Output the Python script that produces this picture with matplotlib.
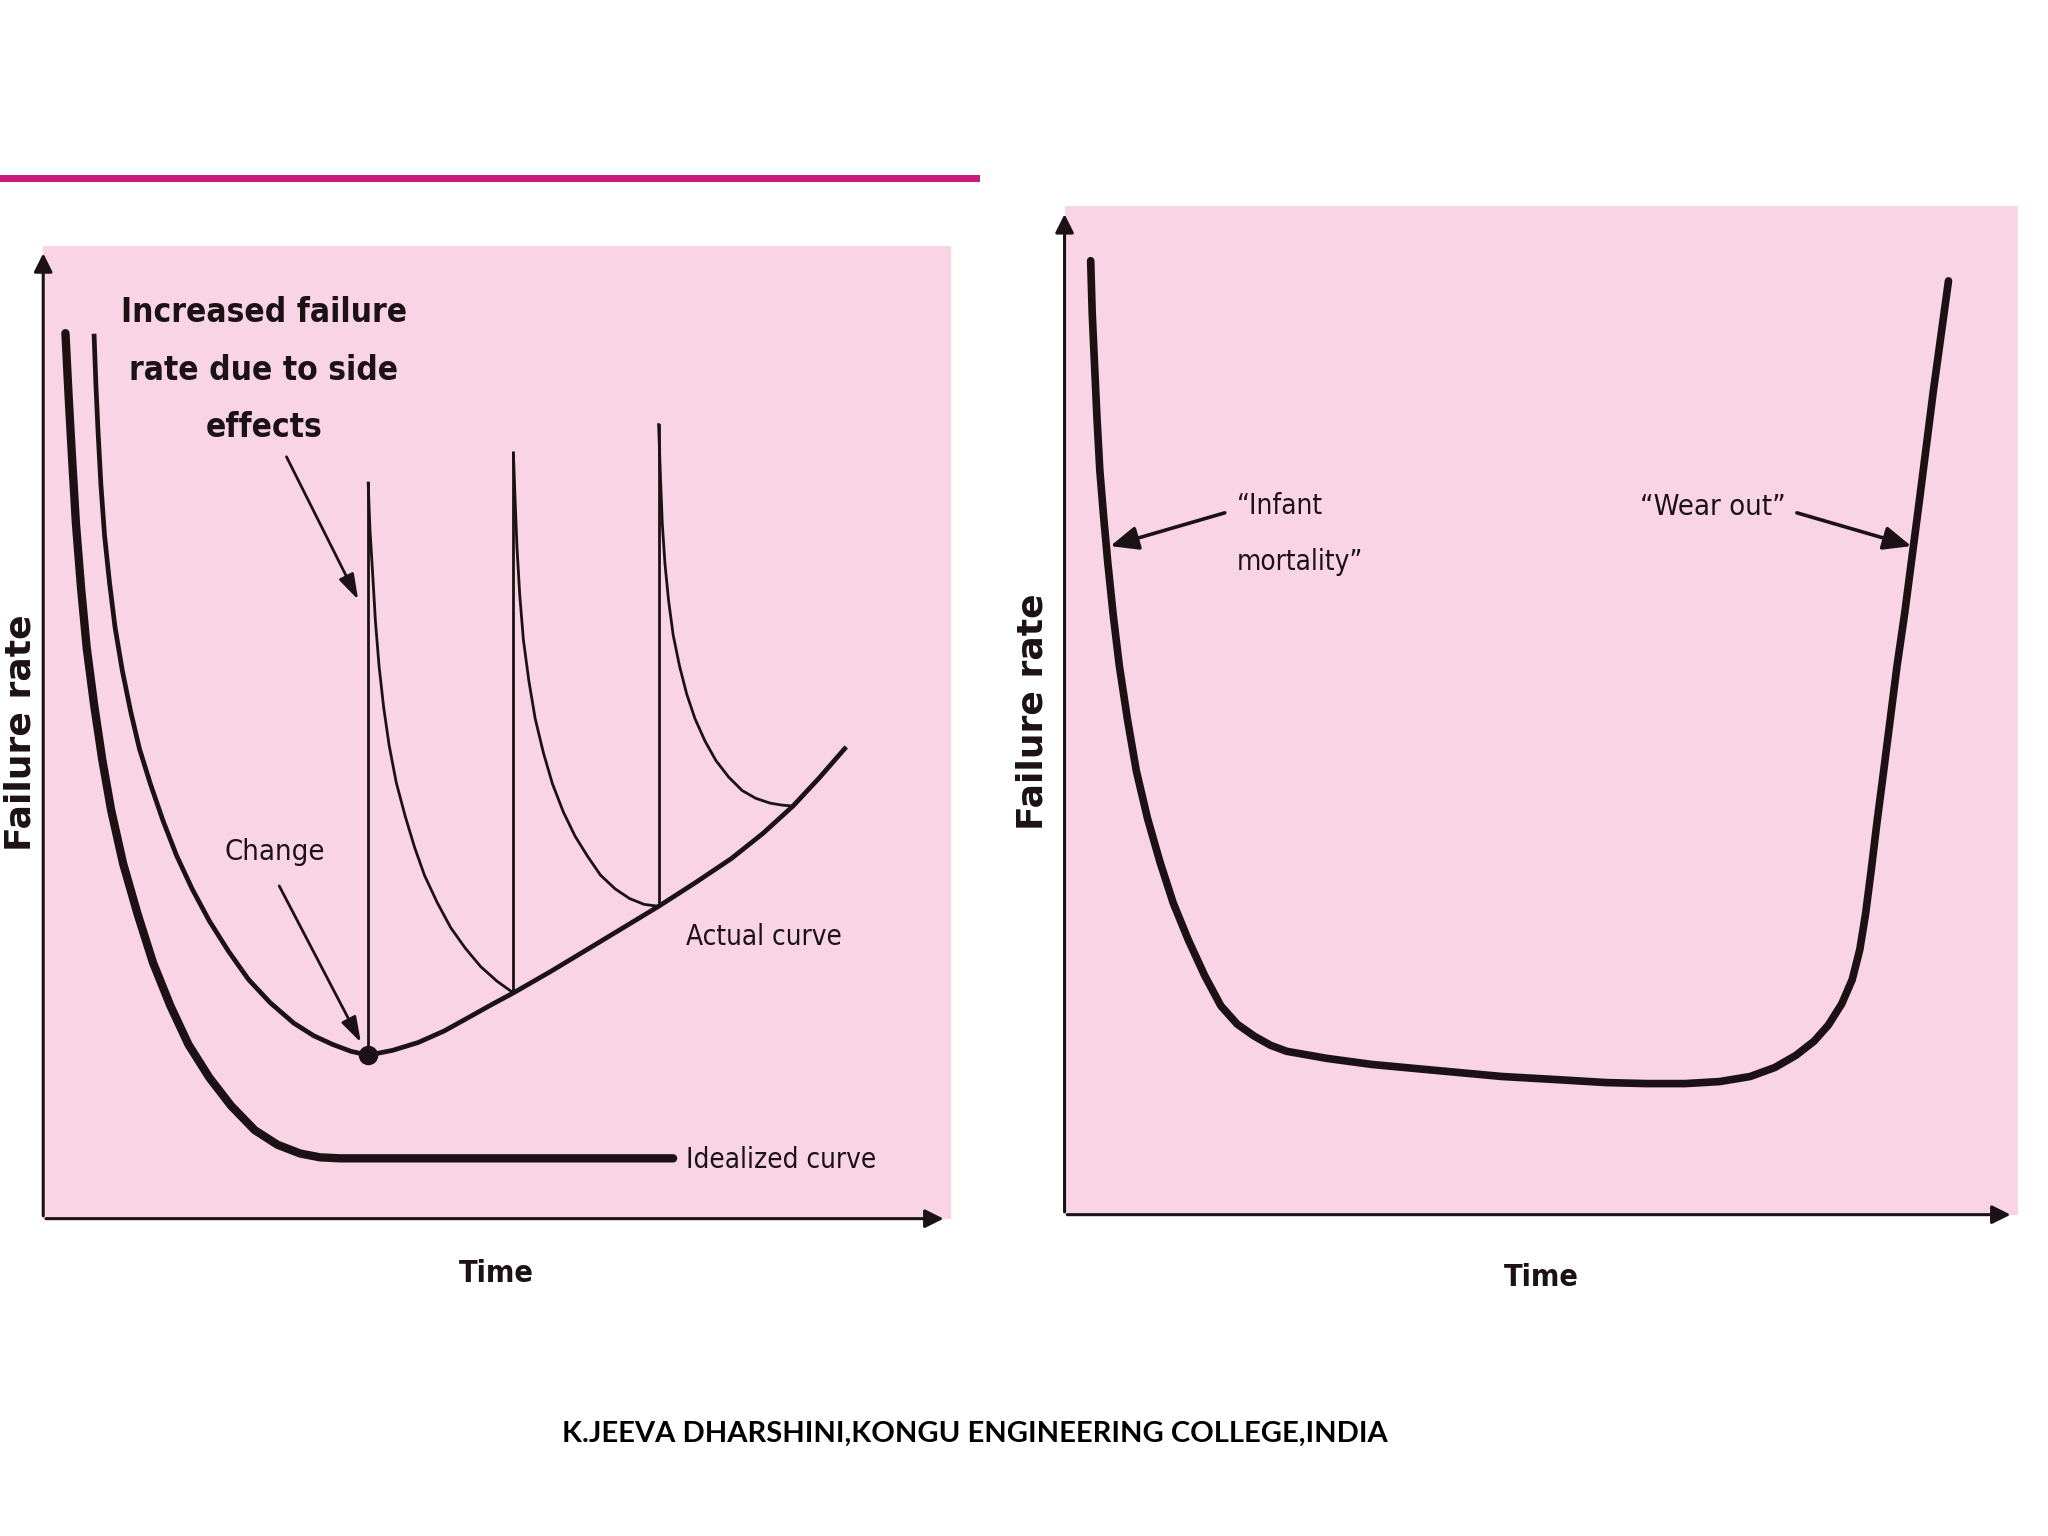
import matplotlib
matplotlib.use('agg')
import matplotlib.pyplot as plt
from matplotlib.lines import Line2D

# ---- data (arbitrary units, 0-100 on both axes) ----
# left chart: software failure curves
ideal_x = [2.45, 2.8, 3.17, 3.6, 4.17, 4.8, 5.61, 6.5, 7.48, 8.8, 10.4, 12.1, 14.0, 16.0,
           18.3, 20.7, 23.3, 25.8, 28.3, 30.5, 32.7, 69.4]
ideal_y = [91.0, 84.5, 78.3, 71.5, 64.8, 58.6, 52.8, 47.2, 42.0, 36.5, 31.3, 26.3, 21.9, 17.9,
           14.5, 11.6, 9.1, 7.6, 6.7, 6.3, 6.2, 6.2]

actual_x = [5.61, 5.8, 6.04, 6.35, 6.76, 7.3, 7.91, 8.7, 9.64, 10.6, 11.8, 13.2, 14.7, 16.4,
            18.3, 20.4, 22.6, 25.0, 27.6, 29.8, 31.9, 33.9, 35.8,
            38.5, 41.3, 44.2, 47.1, 49.4, 51.8, 55.9, 60.0, 63.9, 67.8, 71.8, 75.8, 79.3,
            82.6, 85.5, 88.3]
actual_y = [90.7, 85.8, 80.9, 75.5, 70.2, 65.4, 60.8, 56.4, 52.1, 48.3, 44.7, 40.9, 37.3, 33.9,
            30.6, 27.5, 24.6, 22.2, 20.1, 18.8, 17.9, 17.2, 16.8,
            17.3, 18.1, 19.3, 20.8, 22.0, 23.2, 25.4, 27.7, 29.9, 32.1, 34.5, 37.0, 39.6,
            42.4, 45.3, 48.3]

spike_x = [35.8, 51.8, 67.8]
spike_top = [75.6, 78.7, 81.6]
spike_bottom = [16.8, 23.2, 32.1]

decay1_x = [35.8, 36.0, 36.3, 36.6, 37.0, 37.5, 38.1, 38.9, 39.9, 40.9, 42.0, 43.4, 44.9,
            46.5, 48.2, 50.0, 51.8]
decay1_y = [75.6, 70.8, 66.2, 61.4, 56.8, 52.6, 48.7, 44.8, 41.3, 38.2, 35.3, 32.5, 29.9,
            27.8, 25.9, 24.4, 23.2]
decay2_x = [51.8, 52.0, 52.2, 52.5, 52.9, 53.5, 54.2, 55.1, 56.1, 57.3, 58.6, 60.0, 61.4,
            63.0, 64.6, 66.2, 67.8]
decay2_y = [78.7, 73.6, 68.9, 64.1, 59.5, 55.3, 51.4, 47.9, 44.7, 41.8, 39.3, 37.2, 35.3,
            33.9, 32.9, 32.3, 32.1]
decay3_x = [67.8, 68.0, 68.2, 68.5, 68.9, 69.4, 70.1, 70.9, 71.8, 72.9, 74.1, 75.5, 77.0,
            78.5, 80.1, 81.4, 82.6]
decay3_y = [81.6, 76.3, 71.5, 67.3, 63.5, 60.0, 56.8, 53.9, 51.4, 49.1, 47.1, 45.4, 44.0,
            43.2, 42.7, 42.5, 42.4]

change_point = (35.8, 16.8)

# right chart: hardware bathtub curve
tub_x = [2.74, 2.9, 3.15, 3.4, 3.70, 4.1, 4.52, 5.1, 5.75, 6.6, 7.53, 8.7, 10.0, 11.4, 13.0,
         14.7, 16.4, 18.1, 19.9, 21.6, 23.3, 27.5, 32.2, 39.0, 45.9, 51.5, 56.8, 61.0, 65.1,
         68.7, 71.9, 74.5, 76.7, 78.6, 80.1, 81.5, 82.6, 83.4, 84.0, 84.6, 85.2, 85.9, 86.6,
         87.3, 88.1, 88.9, 89.7, 90.4, 91.1, 91.9, 92.7]
tub_y = [94.6, 89.4, 84.2, 79.0, 73.8, 69.2, 64.8, 59.5, 54.4, 49.1, 44.0, 39.3, 35.0, 30.9,
         27.2, 23.7, 20.7, 18.9, 17.7, 16.8, 16.2, 15.5, 14.9, 14.3, 13.7, 13.4, 13.1, 13.0,
         13.0, 13.2, 13.7, 14.6, 15.8, 17.2, 18.8, 20.9, 23.3, 26.3, 29.8, 34.2, 38.9, 44.0,
         49.2, 54.4, 59.6, 65.4, 71.2, 76.4, 81.6, 87.1, 92.6]

PINK = '#f8d4e4'
INK = '#1c1216'

# condensed face for the figure labels
NARROW = dict(family='DejaVu Sans', fontstretch='condensed')

fig = plt.figure(figsize=(20.48, 15.36), dpi=100)
fig.patch.set_facecolor('white')


def setup(ax):
    ax.set_facecolor(PINK)
    ax.set_xlim(0, 100)
    ax.set_ylim(0, 100)
    for s in ax.spines.values():
        s.set_visible(False)
    ax.set_xticks([])
    ax.set_yticks([])
    # axis arrows
    ax.annotate('', xy=(0, 0.995), xytext=(0, 0), xycoords='axes fraction',
                arrowprops=dict(arrowstyle='-|>', color=INK, lw=2.2, mutation_scale=28))
    ax.annotate('', xy=(0.995, 0), xytext=(0, 0), xycoords='axes fraction',
                arrowprops=dict(arrowstyle='-|>', color=INK, lw=2.2, mutation_scale=28))


def arrow(ax, start, tip, lw=2.0, style='-|>,head_length=0.7,head_width=0.22', scale=22):
    ax.annotate('', xy=tip, xytext=start,
                arrowprops=dict(arrowstyle=style, color=INK, lw=lw, mutation_scale=scale,
                                shrinkA=0, shrinkB=0))


# ---- left chart ----
ax1 = fig.add_axes([0.0211, 0.2066, 0.4432, 0.6335])
setup(ax1)
ax1.plot(ideal_x, ideal_y, color=INK, lw=6, solid_capstyle='round', solid_joinstyle='round')
ax1.plot(actual_x, actual_y, color=INK, lw=3.4, solid_joinstyle='round')
for sx, top, bot in zip(spike_x, spike_top, spike_bottom):
    ax1.plot([sx, sx], [bot, top], color=INK, lw=2)
for dx, dy in [(decay1_x, decay1_y), (decay2_x, decay2_y), (decay3_x, decay3_y)]:
    ax1.plot(dx, dy, color=INK, lw=2, solid_joinstyle='round')
ax1.plot(*change_point, 'o', color=INK, ms=13)

ax1.text(24.3, 87.2, 'Increased failure\nrate due to side\neffects', ha='center', va='center',
         fontsize=24, fontweight='bold', color=INK, linespacing=1.95, **NARROW)
arrow(ax1, (26.8, 78.3), (34.7, 63.6))
ax1.text(25.5, 37.7, 'Change', ha='center', va='center', fontsize=21, color=INK, **NARROW)
arrow(ax1, (26.0, 34.2), (35.0, 18.1))
ax1.text(70.8, 28.9, 'Actual curve', ha='left', va='center', fontsize=20, color=INK, **NARROW)
ax1.text(70.8, 6.0, 'Idealized curve', ha='left', va='center', fontsize=20, color=INK, **NARROW)
ax1.text(49.9, -5.6, 'Time', ha='center', va='center', fontsize=22, fontweight='bold',
         color=INK, **NARROW)
fig.text(0.0015, 1 - 561 / 1176, 'Failure rate', ha='left', va='center', rotation=90,
         fontsize=26, fontweight='heavy', color=INK)

# ---- right chart ----
ax2 = fig.add_axes([0.5198, 0.2092, 0.4656, 0.6565])
setup(ax2)
ax2.plot(tub_x, tub_y, color=INK, lw=5.5, solid_capstyle='round', solid_joinstyle='round')
ax2.text(18.1, 67.5, '\u201cInfant\nmortality\u201d', ha='left', va='center', fontsize=20,
         color=INK, linespacing=2.3, **NARROW)
arrow(ax2, (16.8, 69.6), (4.8, 66.3), lw=2.6, style='-|>,head_length=0.7,head_width=0.3',
      scale=24)
ax2.text(60.3, 70.2, '\u201cWear out\u201d', ha='left', va='center', fontsize=21,
         color=INK, **NARROW)
arrow(ax2, (76.8, 69.6), (88.8, 66.3), lw=2.6, style='-|>,head_length=0.7,head_width=0.3',
      scale=24)
ax2.text(50.0, -6.2, 'Time', ha='center', va='center', fontsize=22, fontweight='bold',
         color=INK, **NARROW)
ax2.text(-3.4, 49.9, 'Failure rate', ha='center', va='center', rotation=90, fontsize=26,
         fontweight='heavy', color=INK)

# ---- slide decorations ----
fig.add_artist(Line2D([0, 0.4764], [0.8844, 0.8844], transform=fig.transFigure,
                      color='#c8187c', lw=5))
fig.text(0.4758, 0.0663, 'K.JEEVA DHARSHINI,KONGU ENGINEERING COLLEGE,INDIA',
         ha='center', va='center', fontsize=21, fontweight='bold', family='Lato', color='black')

fig.savefig('out.png', dpi=100, facecolor='white')
